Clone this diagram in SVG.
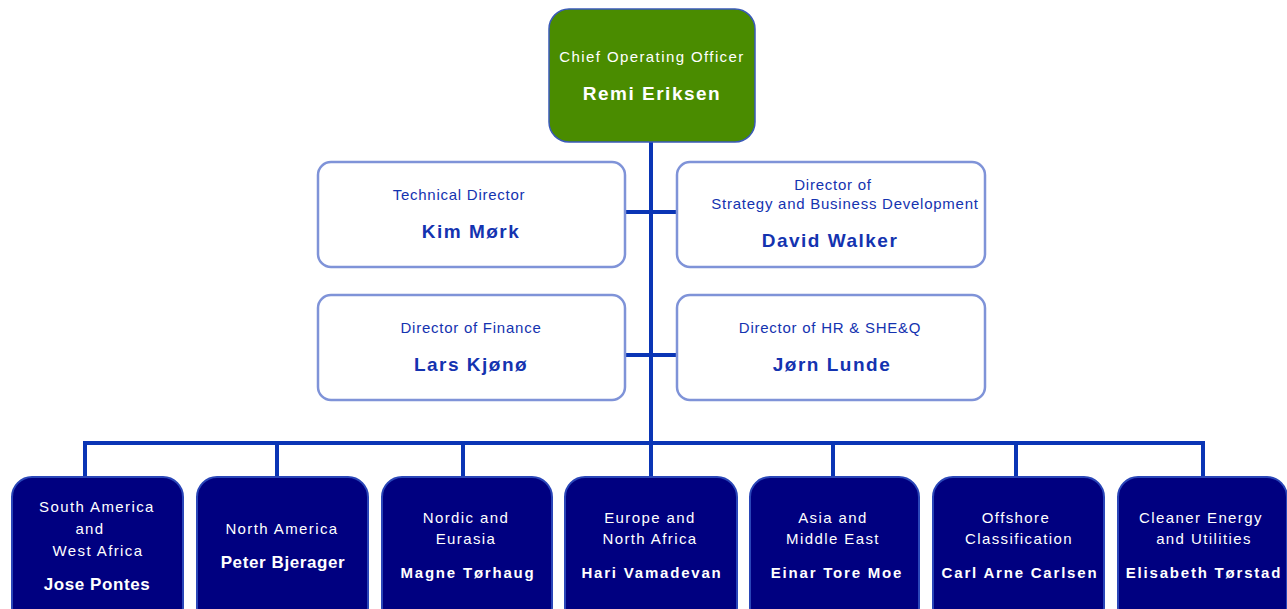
<svg xmlns="http://www.w3.org/2000/svg" width="1287" height="609" viewBox="0 0 1287 609">
<style>
text{font-family:"Liberation Sans",Arial,sans-serif;text-anchor:middle}
.t{font-size:15px;letter-spacing:0.75px}
.ct{font-size:15px;letter-spacing:1.4px}
.n{font-size:19px;font-weight:bold;letter-spacing:1.5px}
.bt{font-size:15px;letter-spacing:1.4px;fill:#ffffff}
.bn{font-size:15px;font-weight:bold;letter-spacing:1.8px;fill:#ffffff}
.bn2{font-size:17px;font-weight:bold;letter-spacing:0.6px;fill:#ffffff}
.blue{fill:#1433b0}
.wbox{fill:#ffffff;stroke:#7f93d8;stroke-width:2.5}
.nbox{fill:#000080;stroke:#2a46b8;stroke-width:2}
.ln{stroke:#0a35b5;stroke-width:4;fill:none}
</style>
<g id="connectors">
<line class="ln" x1="651" y1="142" x2="651" y2="445"/>
<line class="ln" x1="625" y1="212" x2="677" y2="212" stroke-width="5"/>
<line class="ln" x1="625" y1="355" x2="677" y2="355" stroke-width="5"/>
<polyline class="ln" points="85,477 85,443 1203,443 1203,477"/>
<line class="ln" x1="277" y1="443" x2="277" y2="477"/>
<line class="ln" x1="463" y1="443" x2="463" y2="477"/>
<line class="ln" x1="651" y1="443" x2="651" y2="477"/>
<line class="ln" x1="833" y1="443" x2="833" y2="477"/>
<line class="ln" x1="1016" y1="443" x2="1016" y2="477"/>
</g>
<g id="coo">
<rect x="549" y="9" width="206" height="133" rx="20" fill="#4a8c00" stroke="#3a5ab8" stroke-width="1.5"/>
<text class="ct" x="652" y="62" fill="#ffffff">Chief Operating Officer</text>
<text class="n" x="652" y="100" fill="#ffffff">Remi Eriksen</text>
</g>
<g id="technical">
<rect class="wbox" x="318" y="162" width="307" height="105" rx="13"/>
<text class="t blue" x="459" y="200">Technical Director</text>
<text class="n blue" x="471" y="238">Kim Mørk</text>
</g>
<g id="strategy">
<rect class="wbox" x="677" y="162" width="308" height="105" rx="13"/>
<text class="t blue" x="833" y="190">Director of</text>
<text class="t blue" x="845" y="209">Strategy and Business Development</text>
<text class="n blue" x="830" y="247">David Walker</text>
</g>
<g id="finance">
<rect class="wbox" x="318" y="295" width="307" height="105" rx="13"/>
<text class="t blue" x="471" y="333">Director of Finance</text>
<text class="n blue" x="471" y="371">Lars Kjønø</text>
</g>
<g id="hr">
<rect class="wbox" x="677" y="295" width="308" height="105" rx="13"/>
<text class="t blue" x="830" y="333">Director of HR &amp; SHE&amp;Q</text>
<text class="n blue" x="832" y="371">Jørn Lunde</text>
</g>
<g id="south-america">
<rect class="nbox" x="12" y="477" width="171" height="150" rx="20"/>
<text class="bt" x="97" y="512">South America</text>
<text class="bt" x="90" y="534">and</text>
<text class="bt" x="98" y="556">West Africa</text>
<text class="bn2" x="97" y="590">Jose Pontes</text>
</g>
<g id="north-america">
<rect class="nbox" x="197" y="477" width="171" height="150" rx="20"/>
<text class="bt" x="282" y="534">North America</text>
<text class="bn2" x="283" y="568">Peter Bjerager</text>
</g>
<g id="nordic">
<rect class="nbox" x="382" y="477" width="170" height="150" rx="20"/>
<text class="bt" x="466" y="523">Nordic and</text>
<text class="bt" x="466" y="544">Eurasia</text>
<text class="bn" x="468" y="578">Magne Tørhaug</text>
</g>
<g id="europe">
<rect class="nbox" x="565" y="477" width="172" height="150" rx="20"/>
<text class="bt" x="650" y="523">Europe and</text>
<text class="bt" x="650" y="544">North Africa</text>
<text class="bn" x="652" y="578">Hari Vamadevan</text>
</g>
<g id="asia">
<rect class="nbox" x="750" y="477" width="169" height="150" rx="20"/>
<text class="bt" x="833" y="523">Asia and</text>
<text class="bt" x="833" y="544">Middle East</text>
<text class="bn" x="837" y="578">Einar Tore Moe</text>
</g>
<g id="offshore">
<rect class="nbox" x="933" y="477" width="171" height="150" rx="20"/>
<text class="bt" x="1016" y="523">Offshore</text>
<text class="bt" x="1019" y="544">Classification</text>
<text class="bn" x="1020" y="578">Carl Arne Carlsen</text>
</g>
<g id="cleaner-energy">
<rect class="nbox" x="1118" y="477" width="169" height="150" rx="20"/>
<text class="bt" x="1201" y="523">Cleaner Energy</text>
<text class="bt" x="1204" y="544">and Utilities</text>
<text class="bn" x="1204" y="578">Elisabeth Tørstad</text>
</g>
</svg>
